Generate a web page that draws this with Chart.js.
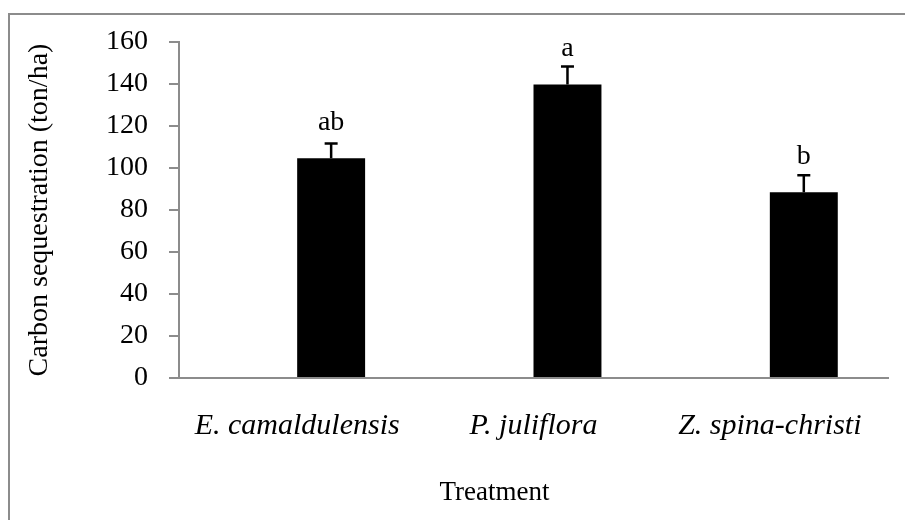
<!DOCTYPE html>
<html>
<head>
<meta charset="utf-8">
<script src="https://cdn.jsdelivr.net/npm/chart.js@4.4.0/dist/chart.umd.min.js"></script>
<style>
  html, body { margin: 0; padding: 0; background: #fff; }
  #wrap { width: 905px; height: 520px; }
</style>
</head>
<body>
<div id="wrap"><canvas id="grafico-carbono" width="905" height="520"></canvas></div>
<script>
const especies = ['E. camaldulensis', 'P. juliflora', 'Z. spina-christi'];
const carbono = [104.7, 139.8, 88.5];
const erroPadrao = [7, 8.5, 8];
const letras = ['ab', 'a', 'b'];
// Excel cluster had an empty first series, which pushes the bars right
const serieVazia = [null, null, null];

const cinza = '#8c8c8c';
const fonte = 'Liberation Serif, Times New Roman, serif';

const plugBordaErros = {
  id: 'bordaErros',
  beforeDraw(chart) {
    const c = chart.ctx;
    c.save();
    c.strokeStyle = cinza;
    c.lineWidth = 2;
    c.beginPath();
    c.moveTo(9, 520);
    c.lineTo(9, 14);
    c.lineTo(905, 14);
    c.stroke();
    c.restore();
  },
  afterDatasetsDraw(chart) {
    const c = chart.ctx;
    const y = chart.scales.y;
    const meta = chart.getDatasetMeta(1);
    c.save();
    c.strokeStyle = '#000';
    c.fillStyle = '#000';
    c.lineWidth = 2.5;
    meta.data.forEach(function (barra, i) {
      const topo = y.getPixelForValue(carbono[i]);
      const yErro = y.getPixelForValue(carbono[i] + erroPadrao[i]);
      c.beginPath();
      c.moveTo(barra.x, topo);
      c.lineTo(barra.x, yErro);
      c.moveTo(barra.x - 6.5, yErro);
      c.lineTo(barra.x + 6.5, yErro);
      c.stroke();
      c.font = '28px ' + fonte;
      c.textAlign = 'center';
      c.textBaseline = 'alphabetic';
      c.fillText(letras[i], barra.x, topo - 28);
    });
    // axis title sits left of the plot centre, like in the original Excel chart
    c.font = '27px ' + fonte;
    c.textBaseline = 'middle';
    c.textAlign = 'center';
    c.fillText('Treatment', chart.chartArea.left + (chart.chartArea.right - chart.chartArea.left) / 2 - 39, 493);
    c.restore();
  }
};

new Chart(document.getElementById('grafico-carbono'), {
  type: 'bar',
  data: {
    labels: especies,
    datasets: [
      { label: '', data: serieVazia, backgroundColor: '#000' },
      { label: 'Carbon sequestration', data: carbono, backgroundColor: '#000' }
    ]
  },
  options: {
    responsive: false,
    animation: false,
    categoryPercentage: 0.575,
    barPercentage: 1,
    layout: { padding: { top: 42, right: 17, left: 0, bottom: 0 } },
    plugins: {
      legend: { display: false },
      tooltip: { enabled: false }
    },
    scales: {
      x: {
        grid: { display: false, drawTicks: false },
        border: { color: cinza, width: 2 },
        ticks: {
          color: '#000',
          padding: 30,
          maxRotation: 0,
          font: { family: fonte, size: 30, style: 'italic' }
        },
        afterFit(scale) { scale.height = 142; }
      },
      y: {
        min: 0,
        max: 160,
        ticks: {
          stepSize: 20,
          color: '#000',
          padding: 21,
          font: { family: fonte, size: 28 }
        },
        grid: { drawOnChartArea: false, drawTicks: true, tickLength: 10, color: cinza, lineWidth: 2 },
        border: { color: cinza, width: 2 },
        title: {
          display: true,
          text: 'Carbon sequestration (ton/ha)',
          color: '#000',
          padding: { top: 26, bottom: 0 },
          font: { family: fonte, size: 28, lineHeight: 1 }
        },
        afterFit(scale) { scale.width = 179; }
      }
    }
  },
  plugins: [plugBordaErros]
});
</script>
</body>
</html>
